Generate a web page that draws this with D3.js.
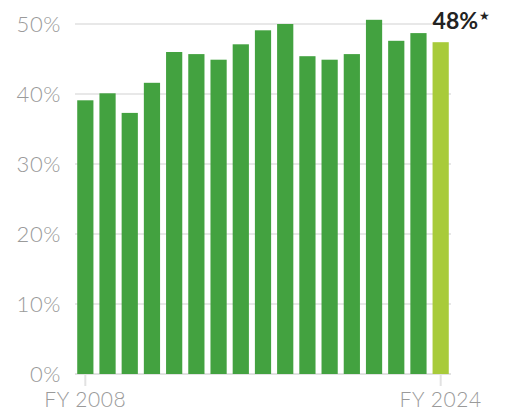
<!DOCTYPE html>
<html><head><meta charset="utf-8">
<script src="https://cdn.jsdelivr.net/npm/d3@7"></script>
<style>body{margin:0;background:#fff;} text{font-family:Lato,"Open Sans",sans-serif;}</style>
</head><body>
<svg id="c" width="505" height="411"></svg>
<script>
const years = ["2008","2009","2010","2011","2012","2013","2014","2015","2016","2017","2018","2019","2020","2021","2022","2023","2024"];
const values = [39.1,40.1,37.3,41.6,46.0,45.7,44.9,47.1,49.1,50.0,45.4,44.9,45.7,50.6,47.6,48.7,47.4];
const yTicks = [0,10,20,30,40,50];
const xTickLabels = ["2008","2024"];
const highlightLabel = "48%";

const svg = d3.select("#c");
const x = d3.scaleBand().domain(years).range([75, 451]).paddingInner(0.27).paddingOuter(0.1);
const y = d3.scaleLinear().domain([0,50]).range([374,24]);

// gridlines
svg.append("g").selectAll("line").data(yTicks).join("line")
  .attr("x1",75).attr("x2",451)
  .attr("y1",d=>y(d)).attr("y2",d=>y(d))
  .attr("stroke",d=>d===0?"#e2e2e2":"#e8e8e8").attr("stroke-width",2);

// y labels
svg.append("g").selectAll("text").data(yTicks).join("text")
  .attr("x",61).attr("y",d=>y(d)+8)
  .attr("text-anchor","end").attr("fill","#9a9a9a")
  .attr("font-size",22).attr("font-weight",300).attr("letter-spacing",0.6)
  .text(d=>d+"%");

// bars
svg.append("g").selectAll("rect").data(years).join("rect")
  .attr("x",d=>x(d)).attr("width",x.bandwidth())
  .attr("y",(d,i)=>y(values[i])).attr("height",(d,i)=>y(0)-y(values[i]))
  .attr("fill",(d,i)=>i===years.length-1?"#a8cb3a":"#43a240");

// x ticks
const xt = svg.append("g");
xTickLabels.forEach(yr=>{
  const tx = x(yr)+x.bandwidth()/2;
  xt.append("line").attr("x1",tx).attr("x2",tx).attr("y1",375).attr("y2",386)
    .attr("stroke","#e2e2e2").attr("stroke-width",2);
  xt.append("text").attr("x",tx).attr("y",407).attr("text-anchor","middle")
    .attr("fill","#9a9a9a").attr("font-size",21).attr("font-weight",300).attr("letter-spacing",0.6)
    .text("FY "+yr);
});

// highlight label
const last = years[years.length-1];
const lt = svg.append("text").attr("x",x(last)).attr("y",29)
  .attr("fill","#222").attr("font-size",23).attr("font-weight",700);
lt.append("tspan").text(highlightLabel);
lt.append("tspan").attr("font-family","DejaVu Sans").attr("font-size",12).attr("dx",1).attr("dy",-9).text("★");
</script>
</body></html>
